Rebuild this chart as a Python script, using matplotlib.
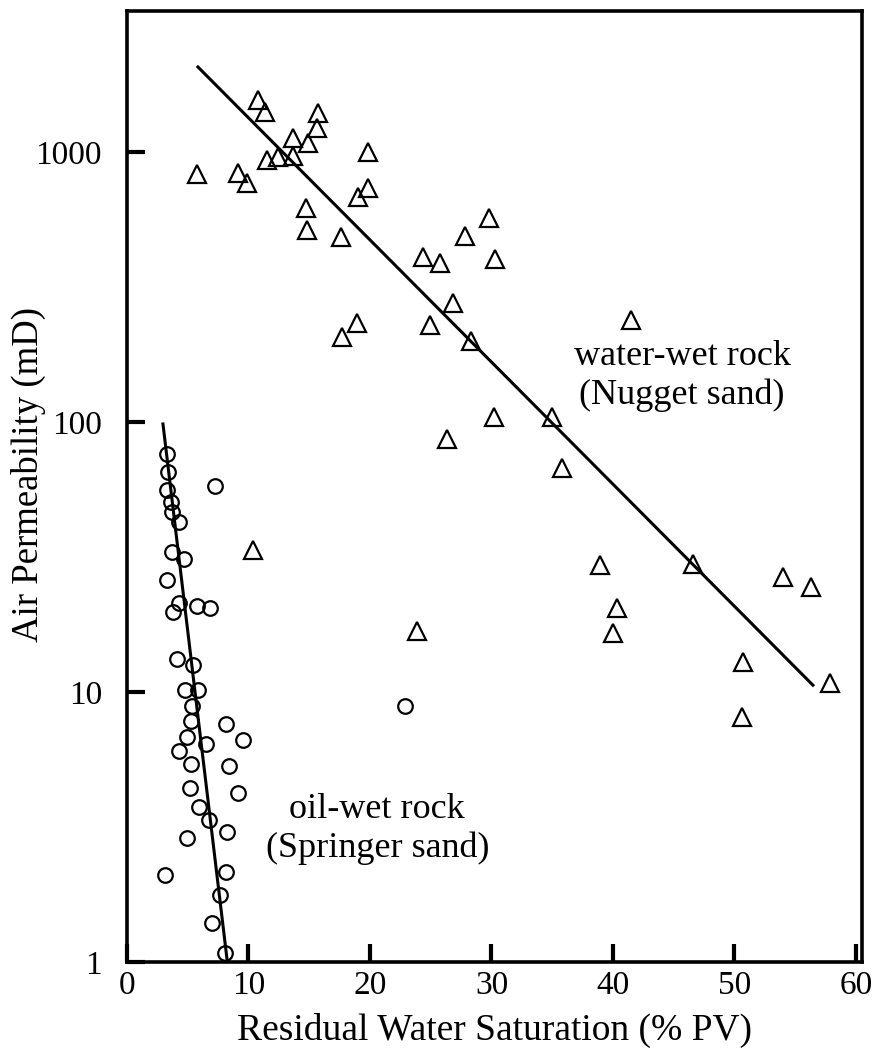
import matplotlib
matplotlib.use("Agg")
import matplotlib.pyplot as plt
from matplotlib.ticker import FixedLocator, NullLocator

plt.rcParams['font.family'] = ['Liberation Serif', 'DejaVu Serif']

# water-wet rock (Nugget sand), triangles
water_sw = [10.8, 11.4, 15.7, 15.6, 13.7, 14.9, 11.5, 12.4, 13.7, 19.8,
            5.8, 9.1, 9.9, 19.8, 19.0, 14.7, 14.8, 17.6, 24.4, 29.8,
            27.8, 30.3, 25.8, 26.8, 18.9, 17.7, 24.9, 28.3, 30.2, 26.3,
            41.5, 35.0, 35.8, 38.9, 46.6, 54.0, 56.3, 40.3, 40.0, 50.7,
            57.9, 50.6, 10.4, 23.9]
water_k = [1559, 1407, 1394, 1227, 1127, 1080, 934, 958, 966, 1000,
           829, 837, 769, 736, 681, 620, 514, 484, 408, 570,
           489, 402, 388, 276, 233, 206, 229, 199, 104, 86.5,
           239, 104, 67.6, 29.5, 29.8, 26.7, 24.5, 20.5, 16.5, 12.9,
           10.8, 8.08, 33.6, 16.8]

# oil-wet rock (Springer sand), circles
oil_sw = [3.27, 3.40, 3.32, 3.60, 3.68, 4.30, 3.68, 4.69, 3.32, 4.30,
          3.76, 5.74, 6.83, 7.24, 4.09, 5.41, 4.77, 5.87, 5.33, 5.27,
          8.15, 9.57, 4.96, 4.30, 6.50, 5.27, 8.42, 5.19, 9.16, 5.95,
          6.75, 8.21, 4.96, 3.13, 8.15, 7.65, 6.97, 8.07, 22.9]
oil_k = [75.9, 65.5, 56.0, 50.7, 46.5, 42.5, 33.1, 31.0, 26.0, 21.4,
         19.7, 20.8, 20.4, 57.9, 13.2, 12.6, 10.2, 10.2, 8.88, 7.81,
         7.61, 6.64, 6.83, 6.04, 6.42, 5.41, 5.32, 4.40, 4.21, 3.74,
         3.36, 3.04, 2.89, 2.10, 2.16, 1.77, 1.40, 1.08, 8.87]

# trend lines (end points)
water_line_sw = [5.84, 56.46]
water_line_k = [2064, 10.6]
oil_line_sw = [2.96, 8.26]
oil_line_k = [98.3, 1.0]

xticks = [0, 10, 20, 30, 40, 50, 60]
yticks = [1, 10, 100, 1000]
ytick_labels = ["1", "10", "100", "1000"]

fig = plt.figure(figsize=(8.74, 10.52), dpi=100)
ax = fig.add_axes([127 / 874, 1 - 962 / 1052, (862 - 127) / 874, (962 - 11) / 1052])

ax.plot(water_line_sw, water_line_k, color='black', lw=2.2)
ax.plot(oil_line_sw, oil_line_k, color='black', lw=2.2)

ax.plot(water_sw, water_k, linestyle='none', marker='^', markersize=13,
        markerfacecolor='none', markeredgecolor='black', markeredgewidth=1.6)
ax.plot(oil_sw, oil_k, linestyle='none', marker='o', markersize=10.5,
        markerfacecolor='none', markeredgecolor='black', markeredgewidth=1.6)

ax.set_yscale('log')
ax.set_xlim(0, 60.5)
ax.set_ylim(1, 3327)

ax.xaxis.set_major_locator(FixedLocator(xticks))
ax.yaxis.set_major_locator(FixedLocator(yticks))
ax.yaxis.set_minor_locator(NullLocator())
ax.set_yticklabels(ytick_labels)

ax.tick_params(axis='both', which='major', direction='in', length=13, width=3,
               labelsize=24)
ax.tick_params(axis='y', pad=18)
ax.tick_params(axis='x', pad=6)
for s in ax.spines.values():
    s.set_linewidth(2.6)

ax.set_xlabel("Residual Water Saturation (% PV)", fontsize=27, labelpad=9)
ax.set_ylabel("Air Permeability (mD)", fontsize=26.5, va='center')
ax.yaxis.set_label_coords(-0.134, 0.513)

ax.text(45.7, 148, "water-wet rock\n(Nugget sand)", fontsize=26, ha='center',
        va='center', linespacing=1.2)
ax.text(20.6, 3.11, "oil-wet rock\n(Springer sand)", fontsize=26, ha='center',
        va='center', linespacing=1.2)

fig.savefig("out.png", dpi=100)
